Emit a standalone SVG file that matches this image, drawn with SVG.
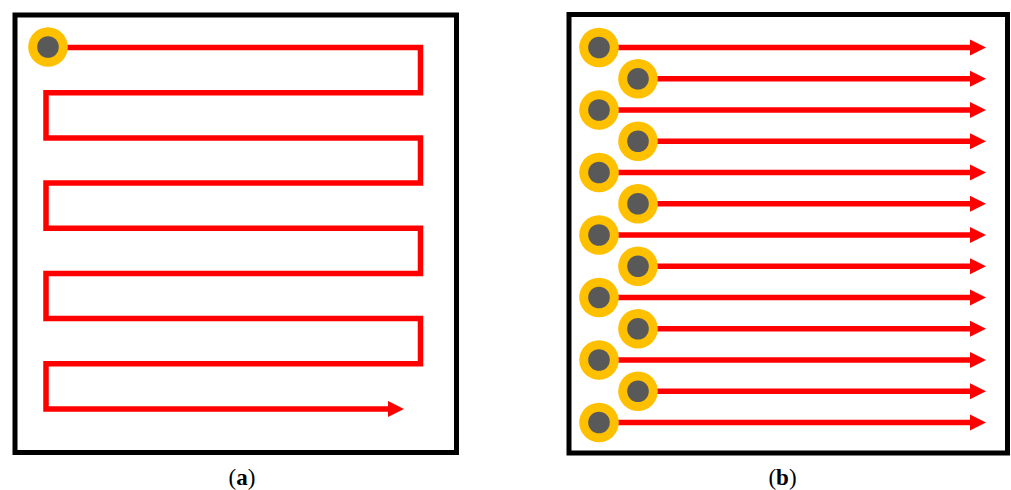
<svg xmlns="http://www.w3.org/2000/svg" width="1011" height="490" viewBox="0 0 1011 490">
  <style>
    .frame { fill: #ffffff; stroke: #000000; stroke-width: 5; }
    .path { fill: none; stroke: #ff0000; stroke-width: 5.5; stroke-linejoin: miter; }
    .ring { fill: #ffc000; }
    .core { fill: #595959; }
    .cap { font-family: "Liberation Serif", "DejaVu Serif", serif; font-size: 23px; fill: #000000; }
  </style>
  <defs>
    <marker id="head" markerUnits="userSpaceOnUse" viewBox="0 -9 17 18" refX="0" refY="0" markerWidth="17" markerHeight="18" orient="auto">
      <path d="M0,-8 L16,0 L0,8 Z" fill="#ff0000"/>
    </marker>
    <g id="src">
      <circle r="19.8" class="ring"/>
      <circle r="10.8" class="core"/>
    </g>
  </defs>
  <rect width="1011" height="490" fill="#ffffff"/>

  <!-- panel frames -->
  <rect class="frame" x="15" y="15" width="441.5" height="437.5"/>
  <rect class="frame" x="569" y="14.5" width="438.5" height="438.5"/>

  <!-- connectors -->
  <g id="connectors">
    <!-- (a) single serpentine sweep -->
    <path class="path" marker-end="url(#head)" d="M48,47.5 H420.5 V92.7 H46 V137.9 H420.5 V183.1 H46 V228.3 H420.5 V273.5 H46 V318.6 H420.5 V363.8 H46 V409 H388"/>
    <!-- (b) parallel straight sweeps -->
    <g class="path" marker-end="url(#head)">
      <path d="M599,47.5 H970"/>
      <path d="M638,78.75 H970"/>
      <path d="M599,110 H970"/>
      <path d="M638,141.25 H970"/>
      <path d="M599,172.5 H970"/>
      <path d="M638,203.75 H970"/>
      <path d="M599,235 H970"/>
      <path d="M638,266.25 H970"/>
      <path d="M599,297.5 H970"/>
      <path d="M638,328.75 H970"/>
      <path d="M599,360 H970"/>
      <path d="M638,391.25 H970"/>
      <path d="M599,422.5 H970"/>
    </g>
  </g>

  <!-- sources -->
  <g id="a-src"><use href="#src" x="48" y="47"/></g>
  <g id="b-src-1"><use href="#src" x="599" y="47.5"/></g>
  <g id="b-src-2"><use href="#src" x="638" y="78.75"/></g>
  <g id="b-src-3"><use href="#src" x="599" y="110"/></g>
  <g id="b-src-4"><use href="#src" x="638" y="141.25"/></g>
  <g id="b-src-5"><use href="#src" x="599" y="172.5"/></g>
  <g id="b-src-6"><use href="#src" x="638" y="203.75"/></g>
  <g id="b-src-7"><use href="#src" x="599" y="235"/></g>
  <g id="b-src-8"><use href="#src" x="638" y="266.25"/></g>
  <g id="b-src-9"><use href="#src" x="599" y="297.5"/></g>
  <g id="b-src-10"><use href="#src" x="638" y="328.75"/></g>
  <g id="b-src-11"><use href="#src" x="599" y="360"/></g>
  <g id="b-src-12"><use href="#src" x="638" y="391.25"/></g>
  <g id="b-src-13"><use href="#src" x="599" y="422.5"/></g>

  <!-- captions -->
  <text class="cap" x="242" y="485" text-anchor="middle">(<tspan font-weight="bold">a</tspan>)</text>
  <text class="cap" x="782.5" y="485" text-anchor="middle">(<tspan font-weight="bold">b</tspan>)</text>
</svg>
